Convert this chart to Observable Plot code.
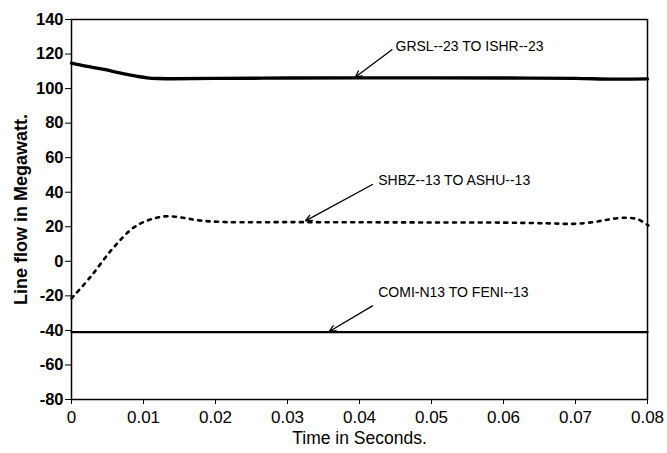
<!DOCTYPE html>
<html><head><meta charset="utf-8">
<script src="https://cdn.jsdelivr.net/npm/d3@7"></script>
<script src="https://cdn.jsdelivr.net/npm/@observablehq/plot@0.6"></script>
<style>
body{margin:0;background:#fff}
#chart svg{font-family:"Liberation Sans",Arial,sans-serif;background:#fff}
</style>
</head><body><div id="chart"></div>
<script>
// GRSL--23 TO ISHR--23 (thick solid)
const grslTime  = [0, 0.002, 0.0045, 0.007, 0.009, 0.0105, 0.012, 0.014, 0.02, 0.03, 0.04, 0.05, 0.06, 0.07, 0.075, 0.08];
const grslValue = [114.7, 113.0, 111.1, 108.8, 107.2, 106.2, 105.8, 105.7, 105.9, 106.1, 106.2, 106.2, 106.1, 105.9, 105.5, 105.6];
// SHBZ--13 TO ASHU--13 (dotted)
const shbzTime  = [0, 0.0026, 0.0057, 0.0084, 0.010, 0.0118, 0.0133, 0.0155, 0.0179, 0.0216, 0.03, 0.04, 0.05, 0.06, 0.066, 0.0698, 0.0725, 0.0744, 0.0767, 0.0786, 0.0801];
const shbzValue = [-21.5, -9.2, 7.3, 18.8, 22.7, 25.2, 26.1, 25.2, 23.6, 22.7, 22.7, 22.6, 22.5, 22.4, 22.0, 21.7, 22.7, 24.1, 25.2, 24.4, 20.8];
// COMI-N13 TO FENI--13 (solid)
const comiTime  = [0, 0.02, 0.04, 0.06, 0.08];
const comiValue = [-41, -41, -41, -41, -41];

const xTicks = [0, 0.01, 0.02, 0.03, 0.04, 0.05, 0.06, 0.07, 0.08];
const xTickLabels = ["0", "0.01", "0.02", "0.03", "0.04", "0.05", "0.06", "0.07", "0.08"];
const yTicks = [-80, -60, -40, -20, 0, 20, 40, 60, 80, 100, 120, 140];
const yTickLabels = ["-80", "-60", "-40", "-20", "0", "20", "40", "60", "80", "100", "120", "140"];

// annotations (data coordinates)
const annLabels = ["GRSL--23 TO ISHR--23", "SHBZ--13 TO ASHU--13", "COMI-N13 TO FENI--13"];
const annTextTime  = [0.0450, 0.0426, 0.0426];
const annTextValue = [124.4, 46.8, -18.0];
const arrowFromTime  = [0.0445, 0.0418, 0.0418];
const arrowFromValue = [122.5, 44.5, -25.8];
const arrowToTime    = [0.0394, 0.0325, 0.0358];
const arrowToValue   = [106.6, 23.4, -40.6];

const grsl = grslTime.map((t, i) => ({t, v: grslValue[i]}));
const shbz = shbzTime.map((t, i) => ({t, v: shbzValue[i]}));
const comi = comiTime.map((t, i) => ({t, v: comiValue[i]}));
const ann = annLabels.map((label, i) => ({
  label, tx: annTextTime[i], ty: annTextValue[i],
  x1: arrowFromTime[i], y1: arrowFromValue[i], x2: arrowToTime[i], y2: arrowToValue[i]
}));

const chart = Plot.plot({
  width: 667,
  height: 453,
  marginLeft: 71,
  marginRight: 20,
  marginTop: 19,
  marginBottom: 54,
  style: {fontFamily: '"Liberation Sans", Arial, sans-serif', color: "#000", background: "#fff"},
  x: {domain: [0, 0.08]},
  y: {domain: [-80, 140]},
  marks: [
    Plot.frame({stroke: "#000", strokeWidth: 1.5}),
    Plot.axisY({
      ticks: yTicks, tickFormat: d => yTickLabels[yTicks.indexOf(d)],
      tickSize: 6, tickPadding: 2, fontSize: 16.5, fontWeight: "bold", label: null
    }),
    Plot.axisY({
      ticks: [], label: "Line flow in Megawatt.", labelAnchor: "center", labelArrow: false,
      labelOffset: 57, fontSize: 18, fontWeight: "bold", tickSize: 0
    }),
    Plot.axisX({
      ticks: xTicks, tickFormat: d => xTickLabels[xTicks.indexOf(d)],
      tickSize: 5, tickPadding: 6, fontSize: 17, label: null
    }),
    Plot.axisX({
      ticks: [], label: "Time in Seconds.", labelAnchor: "center", labelArrow: false,
      labelOffset: 44, fontSize: 17.5, tickSize: 0
    }),
    Plot.line(grsl, {x: "t", y: "v", stroke: "#000", strokeWidth: 3.4, curve: "catmull-rom"}),
    Plot.line(shbz, {x: "t", y: "v", stroke: "#000", strokeWidth: 2.6, strokeDasharray: "3,5.5", curve: "catmull-rom"}),
    Plot.line(comi, {x: "t", y: "v", stroke: "#000", strokeWidth: 2.2}),
    Plot.arrow(ann, {x1: "x1", y1: "y1", x2: "x2", y2: "y2", stroke: "#000", strokeWidth: 1.3, headLength: 8, headAngle: 50}),
    Plot.text(ann, {x: "tx", y: "ty", text: "label", textAnchor: "start", fontSize: 14, fill: "#000"})
  ]
});
document.getElementById("chart").appendChild(chart);
</script>
</body></html>
